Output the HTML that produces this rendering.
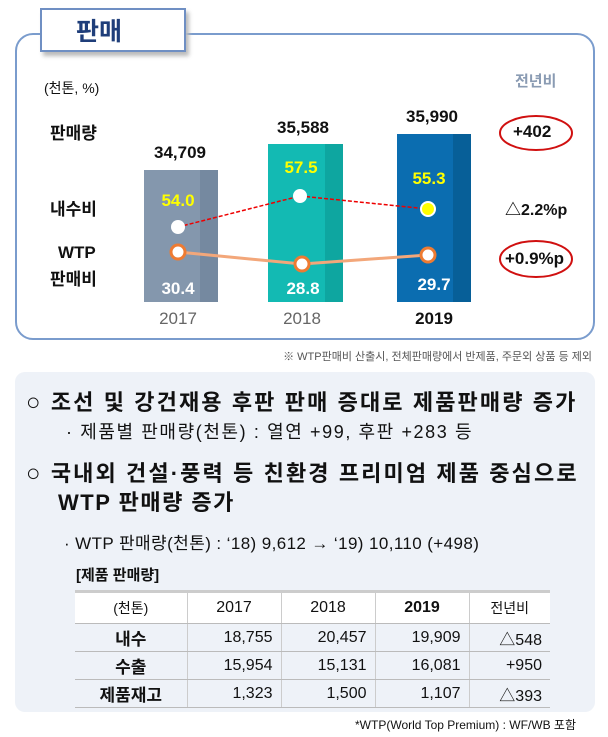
<!DOCTYPE html>
<html><head><meta charset="utf-8"><style>
*{margin:0;padding:0;box-sizing:border-box}
body{width:608px;height:737px;background:#fff;position:relative;overflow:hidden;font-family:"Liberation Sans","Noto Sans CJK KR",sans-serif;color:#111}
.a{position:absolute;white-space:nowrap}
.b{font-weight:bold}
.c{transform:translateX(-50%)}
td{border-bottom:1px solid #bbb;border-right:1px solid #ccc;height:28px;font-size:16px;text-align:right;padding-right:8px}
td:last-child{border-right:none}
td.h{text-align:center;font-weight:bold;font-size:17px;padding:0}
</style></head><body>
<div class="a" style="left:15px;top:33px;width:580px;height:307px;border:2px solid #7a9ccd;border-radius:18px"></div>
<div class="a" style="left:40px;top:8px;width:146px;height:44px;border:2px solid #6f8fc3;background:#fff;box-shadow:3px 4px 4px #bbb"></div>
<div class="a b" style="left:76px;top:12px;font-size:25px;color:#1f3e7a">판매</div>
<div class="a" style="left:44px;top:78px;font-size:14px">(천톤, %)</div>
<div class="a b" style="left:515px;top:70px;font-size:15px;color:#8a9bb3">전년비</div>
<div class="a b" style="left:50px;top:119px;font-size:17px">판매량</div>
<div class="a b" style="left:50px;top:195px;font-size:17px">내수비</div>
<div class="a b" style="left:58px;top:243px;font-size:17px">WTP</div>
<div class="a b" style="left:50px;top:265px;font-size:17px">판매비</div>
<div class="a" style="left:144px;top:170px;width:74px;height:132px;background:#8497ad"></div>
<div class="a" style="left:200px;top:170px;width:18px;height:132px;background:#7589a0"></div>
<div class="a" style="left:268px;top:144px;width:75px;height:158px;background:#13bab3"></div>
<div class="a" style="left:325px;top:144px;width:18px;height:158px;background:#0ea6a0"></div>
<div class="a" style="left:397px;top:134px;width:74px;height:168px;background:#0b6db0"></div>
<div class="a" style="left:453px;top:134px;width:18px;height:168px;background:#075f98"></div>
<div class="a b c" style="left:180px;top:143px;font-size:17px">34,709</div>
<div class="a b c" style="left:303px;top:118px;font-size:17px">35,588</div>
<div class="a b c" style="left:432px;top:107px;font-size:17px">35,990</div>
<svg class="a" style="left:0;top:0" width="608" height="340">
<polyline points="178,227 300,196 428,209" fill="none" stroke="#e00" stroke-width="1.5" stroke-dasharray="4,2"/>
<polyline points="178,252 302,264 428,255" fill="none" stroke="#f3a77a" stroke-width="3"/>
<circle cx="178" cy="227" r="7" fill="#fff"/>
<circle cx="300" cy="196" r="7" fill="#fff"/>
<circle cx="428" cy="209" r="7" fill="#ff0" stroke="#fff" stroke-width="2"/>
<circle cx="178" cy="252" r="7" fill="#fff" stroke="#ee7b32" stroke-width="3"/>
<circle cx="302" cy="264" r="7" fill="#fff" stroke="#ee7b32" stroke-width="3"/>
<circle cx="428" cy="255" r="7" fill="#fff" stroke="#ee7b32" stroke-width="3"/>
<ellipse cx="536" cy="133" rx="36" ry="17" fill="none" stroke="#d01010" stroke-width="2"/>
<ellipse cx="536" cy="259" rx="36" ry="18" fill="none" stroke="#d01010" stroke-width="2"/>
</svg>
<div class="a b c" style="left:178px;top:191px;font-size:17px;color:#ff0">54.0</div>
<div class="a b c" style="left:301px;top:158px;font-size:17px;color:#ff0">57.5</div>
<div class="a b c" style="left:429px;top:169px;font-size:17px;color:#ff0">55.3</div>
<div class="a b c" style="left:178px;top:279px;font-size:17px;color:#fff">30.4</div>
<div class="a b c" style="left:303px;top:279px;font-size:17px;color:#fff">28.8</div>
<div class="a b c" style="left:434px;top:275px;font-size:17px;color:#fff">29.7</div>
<div class="a c" style="left:178px;top:309px;font-size:17px;color:#666">2017</div>
<div class="a c" style="left:302px;top:309px;font-size:17px;color:#666">2018</div>
<div class="a b c" style="left:434px;top:309px;font-size:17px">2019</div>
<div class="a b" style="left:513px;top:122px;font-size:17px">+402</div>
<div class="a b" style="left:505px;top:196px;font-size:16px">△2.2%p</div>
<div class="a b" style="left:505px;top:249px;font-size:17px">+0.9%p</div>
<div class="a" style="right:16px;top:348px;font-size:11px;color:#555">※ WTP판매비 산출시, 전체판매량에서 반제품, 주문외 상품 등 제외</div>
<div class="a" style="left:15px;top:372px;width:580px;height:340px;background:#eef2f8;border-radius:10px"></div>
<div class="a b" style="left:26px;top:385px;font-size:22px;letter-spacing:2.1px"><span style="font-weight:normal;font-size:24px">○</span> 조선 및 강건재용 후판 판매 증대로 제품판매량 증가</div>
<div class="a" style="left:66px;top:418px;font-size:18px;letter-spacing:1.6px">· 제품별 판매량(천톤) : 열연 +99, 후판 +283 등</div>
<div class="a b" style="left:26px;top:456px;font-size:22px;letter-spacing:2.1px"><span style="font-weight:normal;font-size:24px">○</span> 국내외 건설·풍력 등 친환경 프리미엄 제품 중심으로</div>
<div class="a b" style="left:58px;top:485px;font-size:22px;letter-spacing:1.5px">WTP 판매량 증가</div>
<div class="a" style="left:64px;top:529px;font-size:17px;letter-spacing:0.4px">· WTP 판매량(천톤) : ‘18) 9,612 → ‘19) 10,110 (+498)</div>
<div class="a b" style="left:76px;top:564px;font-size:15px">[제품 판매량]</div>
<table class="a" style="left:75px;top:590px;width:475px;border-collapse:collapse;border-top:3px solid #ccc">
<tr style="background:#fff"><td style="text-align:center;font-size:14px;padding:0;width:112px;height:32px">(천톤)</td><td style="text-align:center;padding:0;width:94px">2017</td><td style="text-align:center;padding:0;width:94px">2018</td><td style="text-align:center;padding:0;width:94px;font-weight:bold">2019</td><td style="text-align:center;padding:0;font-size:14px">전년비</td></tr>
<tr><td class="h">내수</td><td>18,755</td><td>20,457</td><td>19,909</td><td>△548</td></tr>
<tr><td class="h">수출</td><td>15,954</td><td>15,131</td><td>16,081</td><td>+950</td></tr>
<tr><td class="h">제품재고</td><td>1,323</td><td>1,500</td><td>1,107</td><td>△393</td></tr>
</table>
<div class="a" style="right:32px;top:716px;font-size:12px">*WTP(World Top Premium) : WF/WB 포함</div>
</body></html>
